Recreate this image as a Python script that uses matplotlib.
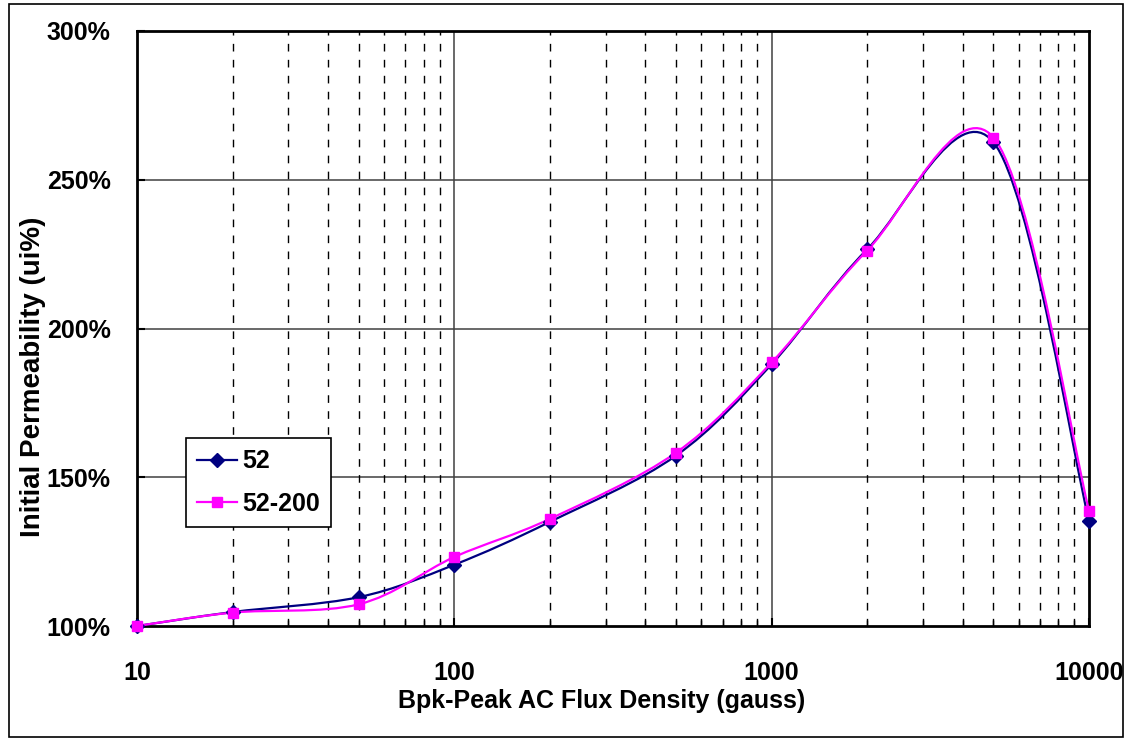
import numpy as np
import matplotlib
matplotlib.use('Agg')
import matplotlib.pyplot as plt
from matplotlib.path import Path
from matplotlib.patches import PathPatch, Rectangle
from matplotlib.lines import Line2D
from matplotlib.ticker import FixedLocator, NullFormatter

FLUX = [10, 20, 50, 100, 200, 500, 1000, 2000, 5000, 10000]
PERM_52 = [100.0, 104.7, 109.7, 120.6, 135.0, 157.3, 188.0, 226.6, 262.6, 135.4]
PERM_52_200 = [100.0, 104.5, 107.3, 123.2, 136.0, 158.3, 188.6, 226.2, 264.2, 138.8]
SERIES = ["52", "52-200"]
YTICKS = [100, 150, 200, 250, 300]
XTICKS = [10, 100, 1000, 10000]

FONT = ['Liberation Sans', 'DejaVu Sans']
W, H = 1126, 740


def smooth_path(xs, ys):
    # Excel-style smoothed line: cubic bezier through the points in (log x, y)
    u = np.log10(xs)
    v = np.asarray(ys, dtype=float)
    n = len(u)
    verts = [(xs[0], v[0])]
    codes = [Path.MOVETO]
    for i in range(n - 1):
        i0 = max(i - 1, 0)
        i3 = min(i + 2, n - 1)
        c1 = (u[i] + (u[i + 1] - u[i0]) / 6, v[i] + (v[i + 1] - v[i0]) / 6)
        c2 = (u[i + 1] - (u[i3] - u[i]) / 6, v[i + 1] - (v[i3] - v[i]) / 6)
        verts += [(10 ** c1[0], c1[1]), (10 ** c2[0], c2[1]), (xs[i + 1], v[i + 1])]
        codes += [Path.CURVE4] * 3
    return Path(verts, codes)


fig = plt.figure(figsize=(W / 100, H / 100), dpi=100)
ax = fig.add_axes([137 / W, 1 - 626 / H, 952 / W, 595 / H])

ax.set_xscale('log')
ax.set_xlim(10, 10000)
ax.set_ylim(100, 300)

# grid
for yv in [150, 200, 250]:
    ax.axhline(yv, color='#404040', lw=1.1, zorder=1)
for xv in [100, 1000]:
    ax.axvline(xv, color='#404040', lw=1.1, zorder=1)
for dec in [10, 100, 1000]:
    for m in range(2, 10):
        ax.axvline(dec * m, color='black', lw=1.0, ls=(0, (5.5, 6)), zorder=1)

styles = [('#000080', 'D', 7), ('#FF00FF', 's', 6.5)]
for ys, (color, marker, ms) in zip([PERM_52, PERM_52_200], styles):
    ax.add_patch(PathPatch(smooth_path(FLUX, ys), facecolor='none', edgecolor=color,
                           lw=1.6, zorder=3))
    ax.plot(FLUX, ys, ls='none', marker=marker, ms=ms, color=color, zorder=4, clip_on=False)

ax.set_yticks(YTICKS)
ax.set_yticklabels([f"{t}%" for t in YTICKS], family=FONT, fontweight='bold', fontsize=18)
ax.set_xticks(XTICKS)
ax.set_xticklabels([str(t) for t in XTICKS], family=FONT, fontweight='bold', fontsize=18)
ax.xaxis.set_minor_locator(FixedLocator([d * m for d in [10, 100, 1000] for m in range(2, 10)]))
ax.xaxis.set_minor_formatter(NullFormatter())
ax.tick_params(axis='x', which='major', direction='in', length=6, width=1.5, pad=25)
ax.tick_params(axis='x', which='minor', direction='in', length=4, width=1)
ax.tick_params(axis='y', which='major', direction='in', length=6, width=1.5, pad=19)

for s in ax.spines.values():
    s.set_linewidth(2)
    s.set_color('black')

fig.text(602 / W, 1 - 701 / H, 'Bpk-Peak AC Flux Density (gauss)', family=FONT,
         fontweight='bold', fontsize=18, ha='center', va='center')
fig.text(33 / W, 1 - 377 / H, 'Initial Permeability (ui%)', family=FONT,
         fontweight='bold', fontsize=20, rotation=90, ha='center', va='center')

handles = [Line2D([], [], color=c, marker=m, ms=ms, lw=1.6) for c, m, ms in styles]
leg = ax.legend(handles, SERIES, loc='upper left', bbox_to_anchor=(49 / 952, (626 - 438) / 595),
                borderaxespad=0, prop={'family': FONT, 'weight': 'bold', 'size': 18},
                fancybox=False, framealpha=1, edgecolor='black', borderpad=0.45,
                handlelength=1.6, labelspacing=0.75, handletextpad=0.2)
leg.get_frame().set_linewidth(1.2)

fig.patches.append(Rectangle((9 / W, 1 - 737 / H), 1114 / W, 733 / H,
                             transform=fig.transFigure, fill=False, edgecolor='black', lw=1.2))

fig.savefig('out.png', dpi=100)
